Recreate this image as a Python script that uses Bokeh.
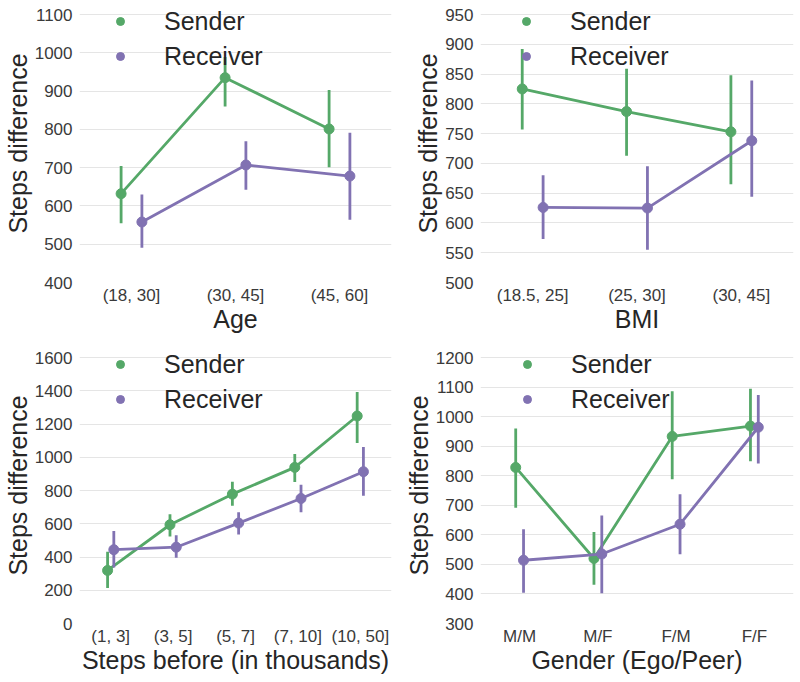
from bokeh.plotting import figure
from bokeh.layouts import gridplot
from bokeh.models import Range1d, FixedTicker, Legend, LegendItem
from bokeh.embed import file_html
from bokeh.resources import INLINE

GREEN = "#55a868"
PURPLE = "#8172b2"
FONT = "Liberation Sans"

# ---- data ----
age_cats = ["(18, 30]", "(30, 45]", "(45, 60]"]
age_sender = [632, 935, 801]
age_sender_lo = [555, 860, 701]
age_sender_hi = [704, 989, 903]
age_receiver = [558, 707, 678]
age_receiver_lo = [491, 642, 564]
age_receiver_hi = [630, 769, 791]

bmi_cats = ["(18.5, 25]", "(25, 30]", "(30, 45]"]
bmi_sender = [825, 787, 753]
bmi_sender_lo = [757, 713, 665]
bmi_sender_hi = [892, 859, 848]
bmi_receiver = [626, 625, 738]
bmi_receiver_lo = [573, 555, 644]
bmi_receiver_hi = [680, 695, 839]

steps_cats = ["(1, 3]", "(3, 5]", "(5, 7]", "(7, 10]", "(10, 50]"]
steps_sender = [319, 594, 778, 939, 1248]
steps_sender_lo = [214, 523, 709, 851, 1085]
steps_sender_hi = [432, 657, 853, 1020, 1392]
steps_receiver = [444, 459, 604, 752, 913]
steps_receiver_lo = [337, 396, 535, 669, 768]
steps_receiver_hi = [556, 531, 669, 834, 1061]

gender_cats = ["M/M", "M/F", "F/M", "F/F"]
gender_sender = [828, 520, 933, 968]
gender_sender_lo = [692, 431, 788, 849]
gender_sender_hi = [960, 610, 1086, 1094]
gender_receiver = [514, 535, 636, 964]
gender_receiver_lo = [404, 402, 534, 841]
gender_receiver_hi = [619, 665, 737, 1073]

series_names = ["Sender", "Receiver"]

HEADROOM = 10  # px of blank frame above the top tick (room for the legend)


def make_panel(cats, s, slo, shi, r, rlo, rhi, ymin, ymax, ystep, xlabel,
               dodge, mbl, mbr, mbt, fw, fh, leg_x):
    y_end = ymax + (ymax - ymin) * HEADROOM / fh
    p = figure(output_backend="svg",
               toolbar_location=None, x_range=Range1d(-0.5, len(cats) - 0.5),
               y_range=Range1d(ymin, y_end),
               min_border_left=mbl, min_border_top=mbt, min_border_bottom=40,
               min_border_right=mbr, frame_width=fw, frame_height=fh + HEADROOM)
    p.outline_line_color = None
    p.background_fill_color = "white"
    p.xgrid.grid_line_color = None
    p.ygrid.grid_line_color = "#e5e5e5"
    p.ygrid.grid_line_width = 1

    p.xaxis.ticker = FixedTicker(ticks=list(range(len(cats))))
    p.xaxis.major_label_overrides = {i: c for i, c in enumerate(cats)}
    p.yaxis.ticker = FixedTicker(ticks=list(range(ymin, ymax + 1, ystep)))
    for ax in (p.xaxis[0], p.yaxis[0]):
        ax.axis_line_color = None
        ax.major_tick_line_color = None
        ax.minor_tick_line_color = None
        ax.major_label_text_font = FONT
        ax.major_label_text_font_size = "17px"
        ax.major_label_text_color = "#3a3a3a"
        ax.axis_label_text_font = FONT
        ax.axis_label_text_font_size = "25px"
        ax.axis_label_text_font_style = "normal"
        ax.axis_label_text_color = "#262626"
    p.xaxis.major_label_standoff = -3
    p.yaxis.major_label_standoff = 1
    p.xaxis.axis_label = xlabel
    p.xaxis.axis_label_standoff = -3
    p.yaxis.axis_label = "Steps difference"
    p.yaxis.axis_label_standoff = 0

    idx = list(range(len(cats)))
    renderers = []
    for vals, lo, hi, color, off in ((s, slo, shi, GREEN, -dodge),
                                     (r, rlo, rhi, PURPLE, dodge)):
        xs = [i + off for i in idx]
        p.line(xs, vals, line_color=color, line_width=2.8)
        p.segment(x0=xs, y0=lo, x1=xs, y1=hi, line_color=color, line_width=2.8)
        sc = p.scatter(xs, vals, size=10, fill_color=color, line_color=color)
        renderers.append(sc)

    legend = Legend(items=[LegendItem(label=series_names[0], renderers=[renderers[0]]),
                           LegendItem(label=series_names[1], renderers=[renderers[1]])],
                    location=(leg_x, fh - 57))
    legend.background_fill_alpha = 0
    legend.border_line_color = None
    legend.padding = 0
    legend.margin = 0
    legend.spacing = 5
    legend.glyph_width = 20
    legend.glyph_height = 30
    legend.label_height = 30
    legend.label_standoff = 34
    legend.label_text_font = FONT
    legend.label_text_font_size = "25px"
    legend.label_text_color = "#262626"
    p.add_layout(legend, "center")
    return p


p1 = make_panel(age_cats, age_sender, age_sender_lo, age_sender_hi,
                age_receiver, age_receiver_lo, age_receiver_hi,
                400, 1100, 100, "Age", 0.1, 70, 10, 4, 312, 268, 31)
p2 = make_panel(bmi_cats, bmi_sender, bmi_sender_lo, bmi_sender_hi,
                bmi_receiver, bmi_receiver_lo, bmi_receiver_hi,
                500, 950, 50, "BMI", 0.1, 79, 2, 4, 313, 268, 36)
p3 = make_panel(steps_cats, steps_sender, steps_sender_lo, steps_sender_hi,
                steps_receiver, steps_receiver_lo, steps_receiver_hi,
                0, 1600, 200, "Steps before (in thousands)", 0.05, 70, 10, 12, 312, 266, 31)
p4 = make_panel(gender_cats, gender_sender, gender_sender_lo, gender_sender_hi,
                gender_receiver, gender_receiver_lo, gender_receiver_hi,
                300, 1200, 100, "Gender (Ego/Peer)", 0.05, 79, 2, 12, 313, 266, 37)

grid = gridplot([[p1, p2], [p3, p4]], toolbar_location=None)

open("out.html", "w").write(file_html(grid, INLINE))
